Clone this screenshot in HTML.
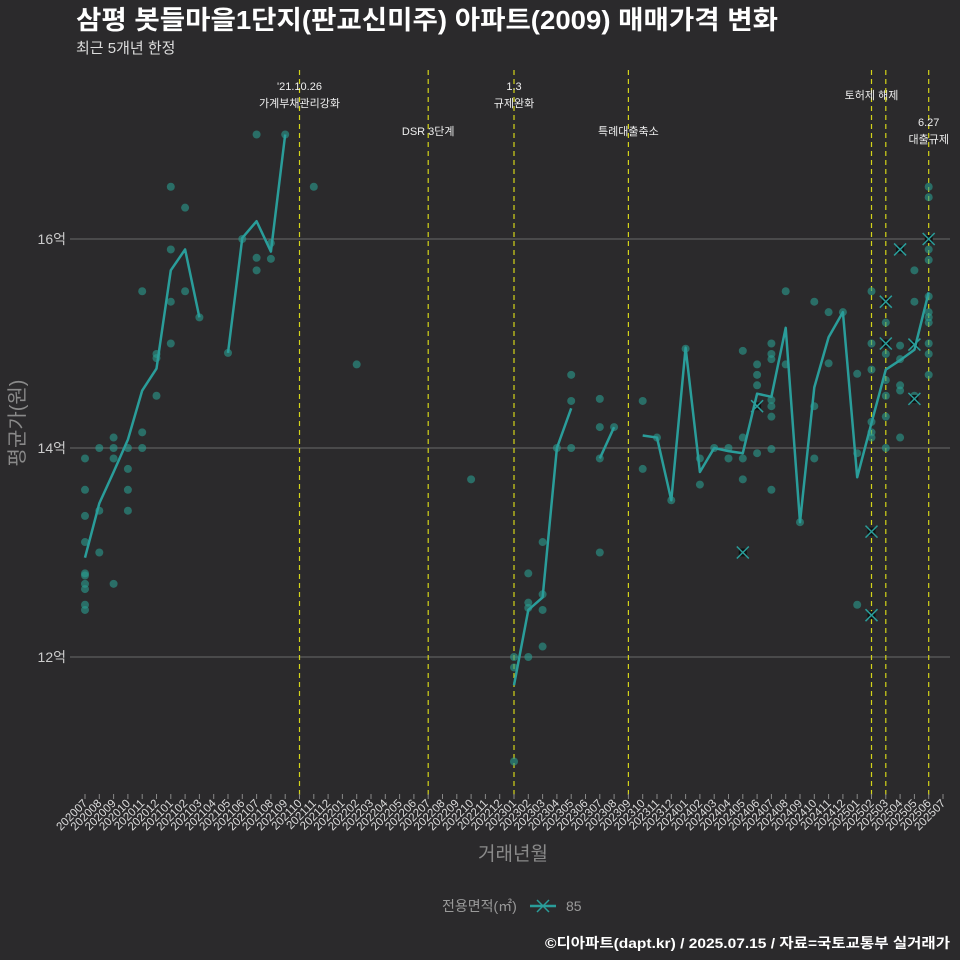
<!DOCTYPE html>
<html><head><meta charset="utf-8">
<style>
body{margin:0;background:#2b2a2c;}
svg{display:block;font-family:"Liberation Sans","Noto Sans CJK KR",sans-serif;}
</style></head>
<body>
<svg id="chart" width="960" height="960" viewBox="0 0 960 960">
<rect width="960" height="960" fill="#2b2a2c"/>
<text x="76" y="29" fill="#ffffff" font-size="26" font-weight="bold" textLength="702" lengthAdjust="spacingAndGlyphs">삼평 봇들마을1단지(판교신미주) 아파트(2009) 매매가격 변화</text>
<text x="76" y="53" fill="#dddddd" font-size="15">최근 5개년 한정</text>
<g id="grid"></g>
<g id="vlines"></g>
<g id="xaxis"></g>
<g id="yaxis"></g>
<g id="points"></g>
<g id="line"></g>
<text x="513" y="860" fill="#8a8a8a" font-size="19" text-anchor="middle">거래년월</text>
<text transform="translate(24,423) rotate(-90)" fill="#8a8a8a" font-size="20" text-anchor="middle">평균가(원)</text>
<g>
<text x="442" y="911" fill="#9a9a9a" font-size="14">전용면적(㎡)</text>
<g>
<line x1="530" y1="906" x2="556" y2="906" stroke="#2a9d9a" stroke-width="2.5"/>
<line x1="537" y1="900" x2="549" y2="912" stroke="#2a9d9a" stroke-width="1.5"/>
<line x1="549" y1="900" x2="537" y2="912" stroke="#2a9d9a" stroke-width="1.5"/>
<text x="566" y="911" fill="#9a9a9a" font-size="14">85</text>
</g>
</g>
<text x="950" y="948" fill="#ffffff" font-size="14" font-weight="bold" text-anchor="end" textLength="405" lengthAdjust="spacingAndGlyphs">©디아파트(dapt.kr) / 2025.07.15 / 자료=국토교통부 실거래가</text>
</svg>
<script>
const months = [];
for (let y = 2020, m = 7; !(y === 2025 && m === 8); ) { months.push(String(y) + String(m).padStart(2,'0')); m++; if (m > 12) { m = 1; y++; } }
const yTicks = [12, 14, 16];
const yTickLabels = ['12억', '14억', '16억'];
const avgSeg1 = [[0,12.95],[1,13.47],[2,13.77],[3,14.08],[4,14.55],[5,14.76],[6,15.70],[7,15.90],[8,15.25]];
const avgSeg2 = [[10,14.91],[11,16.01],[12,16.17],[13,15.88],[14,17.0]];
const avgSeg3 = [[30,11.73],[31,12.45],[32,12.57],[33,14.0],[34,14.38]];
const avgSeg4 = [[36,13.9],[37,14.2]];
const avgSeg5 = [[39,14.12],[40,14.1],[41,13.5],[42,14.96],[43,13.77],[44,14.0],[45,13.97],[46,13.95],[47,14.52],[48,14.49],[49,15.15],[50,13.29],[51,14.58],[52,15.06],[53,15.30],[54,13.72],[55,14.24],[56,14.75],[57,14.84],[58,14.94],[59,15.49]];
const trades = [
[0,13.9],[0,13.6],[0,13.35],[0,13.1],[0,12.8],[0,12.7],[0,12.65],[0,12.5],[0,12.45],[0,12.78],
[1,14.0],[1,13.4],[1,13.0],
[2,14.1],[2,14.0],[2,13.9],[2,12.7],
[3,14.0],[3,13.8],[3,13.6],[3,13.4],
[4,15.5],[4,14.15],[4,14.0],
[5,14.9],[5,14.86],[5,14.5],
[6,16.5],[6,15.9],[6,15.4],[6,15.0],
[7,16.3],[7,15.5],[8,15.25],[10,14.91],[11,16.0],
[12,17.0],[12,15.82],[12,15.70],[13,15.96],[13,15.81],[14,17.0],[16,16.5],[19,14.8],[27,13.7],
[30,12.0],[30,11.9],[30,11.0],
[31,12.8],[31,12.52],[31,12.47],[31,12.0],
[32,13.1],[32,12.6],[32,12.45],[32,12.1],
[33,14.0],[34,14.7],[34,14.45],[34,14.0],
[36,14.47],[36,14.2],[36,13.9],[36,13.0],[37,14.2],
[39,14.45],[39,13.8],[40,14.1],[41,13.5],[42,14.95],
[43,13.9],[43,13.65],[44,14.0],[45,14.0],[45,13.9],
[46,14.93],[46,14.1],[46,13.9],[46,13.7],
[47,14.8],[47,14.7],[47,14.6],[47,13.95],
[48,15.0],[48,14.9],[48,14.85],[48,14.46],[48,14.4],[48,14.3],[48,13.99],[48,13.6],
[49,15.5],[49,14.8],[50,13.29],
[51,15.4],[51,14.4],[51,13.9],
[52,15.3],[52,14.81],[53,15.3],
[54,14.71],[54,13.95],[54,12.5],
[55,15.5],[55,15.0],[55,14.75],[55,14.25],[55,14.15],[55,14.1],
[56,15.2],[56,14.9],[56,14.65],[56,14.5],[56,14.3],[56,14.0],
[57,14.98],[57,14.85],[57,14.6],[57,14.55],[57,14.1],
[58,15.7],[58,15.4],[58,14.5],
[59,16.5],[59,16.4],[59,15.9],[59,15.8],[59,15.45],[59,15.3],[59,15.25],[59,15.2],[59,15.0],[59,14.9],[59,14.7]
];
const cancelled = [[46,13.0],[47,14.4],[55,13.2],[55,12.4],[56,15.4],[56,15.0],[57,15.9],[58,14.99],[58,14.47],[59,16.0]];
const events = [[15,"'21.10.26","가계부채관리강화",90],[24,"","DSR 3단계",135],[30,"1.3","규제완화",90],[38,"","특례대출축소",135],[55,"","토허제 해제",99],[56,"",""],[59,"6.27","대출규제",126]];

const NS = 'http://www.w3.org/2000/svg';
const X = i => 85 + i * 14.3;
const Y = v => 448 - (v - 14) * 104.5;
function mk(tag, attrs, parent, txt) {
  const e = document.createElementNS(NS, tag);
  for (const k in attrs) e.setAttribute(k, attrs[k]);
  if (txt !== undefined) e.textContent = txt;
  parent.appendChild(e); return e;
}
const grid = document.getElementById('grid');
const yaxis = document.getElementById('yaxis');
yTicks.forEach((t, k) => {
  const l = mk('line', {x1: 70, x2: 950, y1: Y(t), y2: Y(t), stroke: '#6a6a6a', 'stroke-width': 1}, grid);
  
  
  const tx = mk('text', {x: 66, y: Y(t) + 5, fill: '#cccccc', 'font-size': 14, 'text-anchor': 'end'}, yaxis, yTickLabels[k]);
  
  
});
const xaxis = document.getElementById('xaxis');
months.forEach((m, i) => {
  mk('line', {x1: X(i), x2: X(i), y1: 794, y2: 799, stroke: '#888', 'stroke-width': 1}, xaxis);
  const t = mk('text', {transform: 'translate(' + (X(i) + 3) + ',804) rotate(-45)', fill: '#dddddd', 'font-size': 11.5, 'text-anchor': 'end'}, xaxis, m);
  
  
});
const vl = document.getElementById('vlines');
events.forEach(ev => {
  const x = X(ev[0]);
  const l = mk('line', {x1: x, x2: x, y1: 70, y2: 796, stroke: '#d4d419', 'stroke-width': 1.2, 'stroke-dasharray': '5,4'}, vl);
  
  
  if (ev[1]) {
    const a = mk('text', {x: x, y: ev[3], fill: '#eeeeee', 'font-size': 11, 'text-anchor': 'middle'}, vl, ev[1]);
    
    
  }
  if (ev[2]) {
    const b = mk('text', {x: x, y: ev[3] + (ev[1] ? 17 : 0), fill: '#eeeeee', 'font-size': 11, 'text-anchor': 'middle'}, vl, ev[2]);
    
    
  }
});
const pts = document.getElementById('points');
trades.forEach(p => {
  const c = mk('circle', {cx: X(p[0]), cy: Y(p[1]), r: 4, fill: '#2a9d8f', 'fill-opacity': 0.6}, pts);
  
  
});
cancelled.forEach(p => {
  const g = mk('g', {}, pts);
  
  
  const x = X(p[0]), y = Y(p[1]);
  mk('rect', {x: x - 4, y: y - 4, width: 8, height: 8, fill: '#111'}, g);
  mk('line', {x1: x - 6, y1: y - 6, x2: x + 6, y2: y + 6, stroke: '#2a9d9a', 'stroke-width': 1.5}, g);
  mk('line', {x1: x + 6, y1: y - 6, x2: x - 6, y2: y + 6, stroke: '#2a9d9a', 'stroke-width': 1.5}, g);
});
const lg = document.getElementById('line');
[avgSeg1, avgSeg2, avgSeg3, avgSeg4, avgSeg5].forEach(seg => {
  const p = mk('polyline', {points: seg.map(d => X(d[0]) + ',' + Y(d[1])).join(' '), fill: 'none', stroke: '#2a9d9a', 'stroke-width': 2.5, 'stroke-linejoin': 'round'}, lg);
  
  
});
</script>
</body></html>
